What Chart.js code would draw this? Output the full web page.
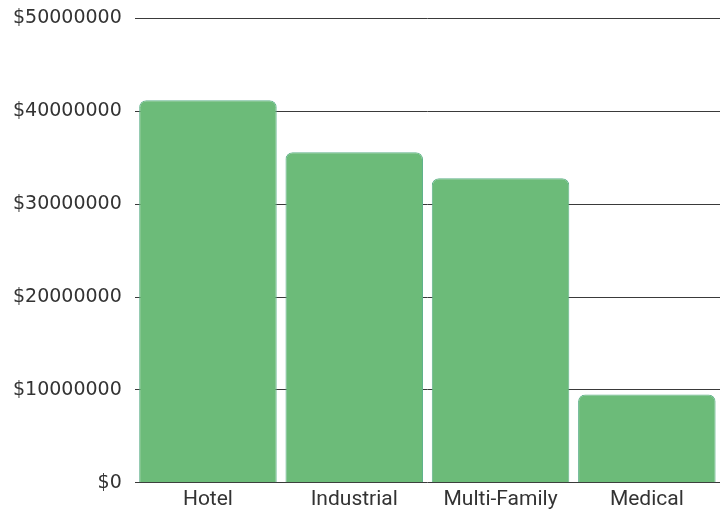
<!DOCTYPE html>
<html>
<head>
<meta charset="utf-8">
<script src="https://cdn.jsdelivr.net/npm/chart.js@4.4.1/dist/chart.umd.min.js"></script>
<style>
  html, body { margin: 0; padding: 0; background: #fff; overflow: hidden; }
  #wrap { width: 720px; height: 517px; margin-top: -6px; }
</style>
</head>
<body>
<div id="wrap"><canvas id="chart"></canvas></div>
<script>
var categories = ['Hotel', 'Industrial', 'Multi-Family', 'Medical'];
var amounts = [41200000, 35600000, 32800000, 9500000];
var yTicks = [0, 10000000, 20000000, 30000000, 40000000, 50000000];

var ctx = document.getElementById('chart').getContext('2d');
var chart = new Chart(ctx, {
    type: 'bar',
    data: {
        labels: categories,
        datasets: [{
            data: amounts,
            backgroundColor: 'rgb(108, 187, 121)',
            borderColor: 'rgb(96, 178, 140)',
            borderWidth: 1,
            borderSkipped: 'bottom',
            borderRadius: { topLeft: 7, topRight: 7, bottomLeft: 0, bottomRight: 0 },
            barPercentage: 0.94,
            categoryPercentage: 1.0
        }]
    },
    options: {
        responsive: true,
        maintainAspectRatio: false,
        animation: false,
        layout: { padding: { top: -3, right: 0, bottom: -5, left: 0 } },
        plugins: {
            legend: { display: false },
            tooltip: { enabled: false }
        },
        scales: {
            x: {
                grid: { display: false, drawTicks: false },
                border: { display: false },
                ticks: {
                    color: '#333',
                    font: { family: 'Roboto', size: 21 },
                    padding: 4
                }
            },
            y: {
                min: 0,
                max: 50000000,
                afterBuildTicks: function (axis) {
                    axis.ticks = yTicks.map(function (v) { return { value: v }; });
                },
                grid: { color: '#3a3a3a', lineWidth: 1, drawTicks: false },
                border: { display: false },
                ticks: {
                    color: '#333',
                    font: { family: 'DejaVu Sans', size: 19 },
                    padding: 13,
                    callback: function (v) { return '$' + v; }
                }
            }
        }
    }
});
</script>
</body>
</html>
